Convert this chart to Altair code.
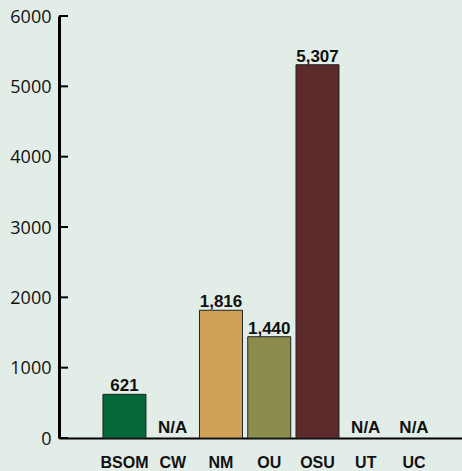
import altair as alt
import pandas as pd

# Schools and their counts (None = not available)
schools = ["BSOM", "CW", "NM", "OU", "OSU", "UT", "UC"]
counts = [621, None, 1816, 1440, 5307, None, None]
bar_colors = ["#05683a", "#e3ede8", "#d0a257", "#8c8c4c", "#5d2a2c", "#e3ede8", "#e3ede8"]
y_ticks = [0, 1000, 2000, 3000, 4000, 5000, 6000]

df = pd.DataFrame({"school": schools, "count": counts, "color": bar_colors})
df["na"] = df["count"].isna()
df["count0"] = df["count"].fillna(0)

x_scale = alt.Scale(domain=schools, paddingInner=0.109, paddingOuter=0.73, align=0.624)
y_scale = alt.Scale(domain=[0, 6000], nice=False, zero=True)

x_enc = alt.X(
    "school:N",
    scale=x_scale,
    sort=schools,
    axis=alt.Axis(
        title=None,
        labelAngle=0,
        ticks=False,
        labelPadding=16,
        labelFont="Liberation Sans",
        labelFontWeight="bold",
        labelFontSize=16,
        labelColor="#111111",
        domainColor="#000000",
        domainWidth=2,
    ),
)

base = alt.Chart(df)

bars = base.transform_filter("!datum.na").mark_bar(
    stroke="#222222", strokeWidth=1
).encode(
    x=x_enc,
    y=alt.Y(
        "count:Q",
        scale=y_scale,
        axis=alt.Axis(
            title=None,
            values=y_ticks,
            format="d",
            grid=False,
            ticks=False,
            labelPadding=8,
            labelFont="Open Sans",
            labelFontSize=18,
            labelColor="#111111",
            labelOffset=1,
            domainColor="#000000",
            domainWidth=3,
        ),
    ),
    color=alt.Color("color:N", scale=None),
)

# inward-pointing tick marks on the value axis
tick_df = pd.DataFrame({"v": y_ticks})
ticks = alt.Chart(tick_df).mark_rule(color="#000000", strokeWidth=2).encode(
    y=alt.Y("v:Q", scale=y_scale),
    x=alt.value(0),
    x2=alt.value(9),
)

value_labels = base.transform_filter("!datum.na").mark_text(
    font="Liberation Sans", fontWeight="bold", fontSize=17, baseline="alphabetic",
    dy=-3, color="#111111",
).encode(
    x=alt.X("school:N", scale=x_scale, sort=schools),
    y=alt.Y("count:Q", scale=y_scale),
    text=alt.Text("count:Q", format=",.0f"),
)

na_labels = base.transform_filter("datum.na").mark_text(
    font="Liberation Sans", fontWeight="bold", fontSize=17, baseline="alphabetic",
    dy=-5, color="#111111",
).encode(
    x=alt.X("school:N", scale=x_scale, sort=schools),
    y=alt.Y("count0:Q", scale=y_scale),
    text=alt.value("N/A"),
)

chart = (
    alt.layer(bars, ticks, value_labels, na_labels)
    .properties(
        width=403,
        height=422,
        autosize=alt.AutoSizeParams(type="none"),
        padding={"left": 59, "top": 16, "right": 0, "bottom": 33},
        background="#e3ede8",
    )
    .configure_view(stroke=None)
)

chart.save("out.html", embed_options={"renderer": "svg", "actions": False})
